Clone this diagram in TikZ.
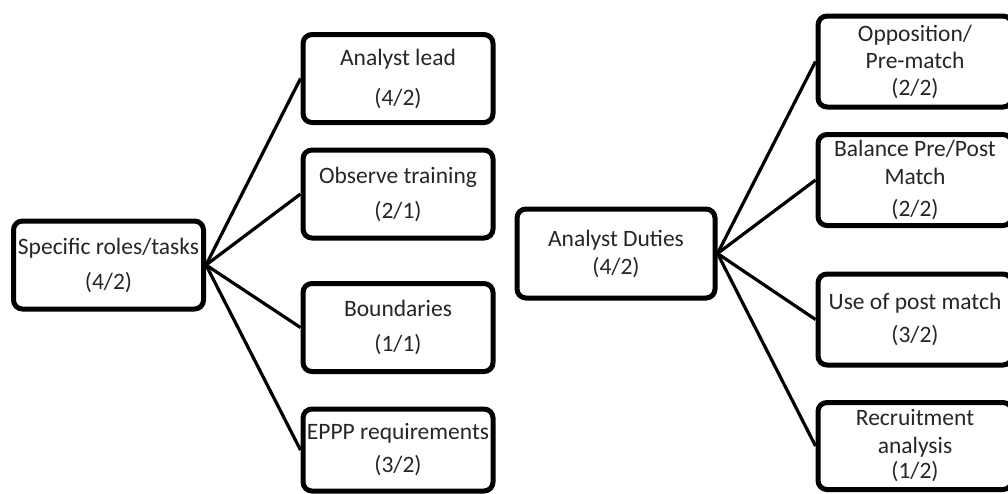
\documentclass[tikz,border=0pt]{standalone}
\usepackage{fontspec}
\setmainfont{Carlito}
\usetikzlibrary{positioning,shadows}

\begin{document}
\begin{tikzpicture}[
    x=1pt, y=-1pt,
    box/.style={rectangle, draw=black, fill=white, line width=5pt, rounded corners=9pt, minimum width=190pt, minimum height=88pt, align=center, text=black!85, font=\fontsize{23.5}{28}\selectfont, drop shadow={shadow xshift=2pt, shadow yshift=-2pt, opacity=0.2}},
    wide/.style={box, minimum width=194pt, minimum height=91pt},
    link/.style={-, line width=3.2pt, black}
]
    \useasboundingbox (0,0) rectangle (1008,493);

    % Left tree
    \node[box] (roles) at (108.5,265) {Specific roles/tasks\\[7pt](4/2)};
    \node[box] (lead) at (398,78.5) {Analyst lead\\[12pt](4/2)};
    \node[box] (train) at (398,194) {Observe training\\[7pt](2/1)};
    \node[box] (bound) at (398,327.5) {Boundaries\\[7pt](1/1)};
    \node[box, minimum height=82pt] (eppp) at (398,450) {EPPP requirements\\[5pt](3/2)};

    % Right tree
    \node[box, minimum width=198pt, minimum height=89pt] (duties) at (616,253.5) {Analyst Duties\\(4/2)};
    \node[wide] (opp) at (915,61.5) {Opposition/\\[-1pt]Pre-match\\[-1pt](2/2)};
    \node[wide] (bal) at (915,180) {Balance Pre/Post\\Match\\[4pt](2/2)};
    \node[wide] (post) at (915,319.5) {Use of post match\\[5pt](3/2)};
    \node[wide, minimum height=87pt] (recr) at (915,446) {Recruitment\\analysis\\[-3pt](1/2)};

    % Links
    \draw[link] (roles.east) -- (lead.west);
    \draw[link] (roles.east) -- (train.west);
    \draw[link] (roles.east) -- (bound.west);
    \draw[link] (roles.east) -- (eppp.west);
    \draw[link] (duties.east) -- (opp.west);
    \draw[link] (duties.east) -- (bal.west);
    \draw[link] (duties.east) -- (post.west);
    \draw[link] (duties.east) -- (recr.west);
\end{tikzpicture}
\end{document}
